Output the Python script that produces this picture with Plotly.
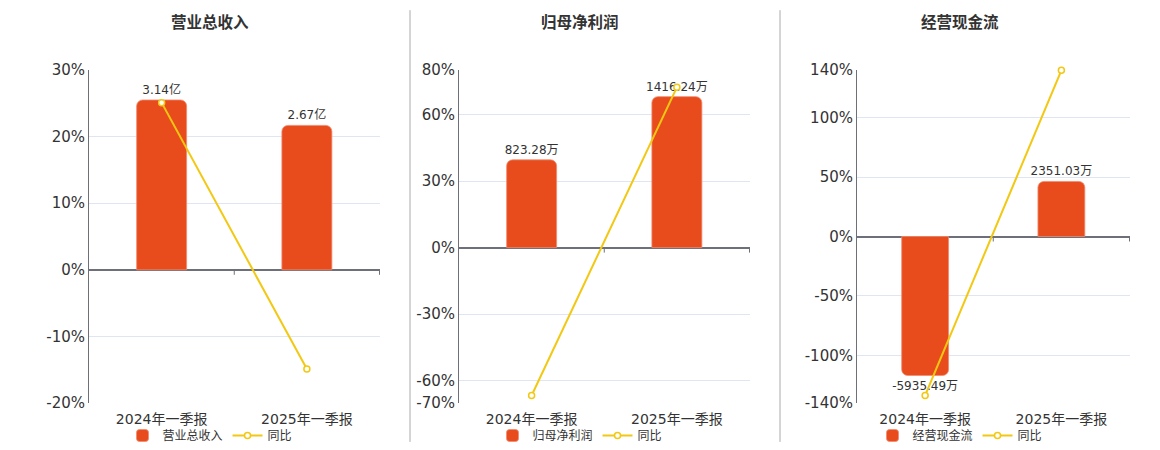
import plotly.graph_objects as go

# datos
categorias = ['2024年一季报', '2025年一季报']
titulos = ['营业总收入', '归母净利润', '经营现金流']
valores_barras = [[3.14, 2.67], [823.28, 1416.24], [-5935.49, 2351.03]]
etiquetas_barras = [['3.14亿', '2.67亿'], ['823.28万', '1416.24万'], ['-5935.49万', '2351.03万']]
tasa_yoy = [[25.1, -14.9], [-66.6, 72.2], [-133.6, 139.7]]
rangos_pct = [[-20, 30], [-70, 80], [-140, 140]]
ticks_pct = [[-20, -10, 0, 10, 20, 30], [-70, -60, -30, 0, 30, 60, 80], [-140, -100, -50, 0, 50, 100, 140]]
# altura (en %) a la que llega la barra mas grande en cada panel
escala_barra = [25.5, 68.0, 116.9]

ROJO = '#E84C1D'
AMARILLO = '#F2C812'
FUENTE = 'DejaVu Sans, Noto Sans CJK SC, sans-serif'

# el navegador deja 8px de margen en el body, todo se mide restando 8
W, H = 1152, 442
ARRIBA, ABAJO = 62, 396
ALTO = ABAJO - ARRIBA


def px_x(x):
    return (x - 8) / W


def px_y(y):
    return (ABAJO - (y - 8)) / ALTO


dominios = [[px_x(89), px_x(380)], [px_x(459), px_x(750)], [px_x(857), px_x(1130)]]
centros = [px_x(210), px_x(580), px_x(960)]

fig = go.Figure()
layout = dict(
    width=W, height=H,
    margin=dict(l=0, r=0, t=ARRIBA, b=H - ABAJO),
    plot_bgcolor='white', paper_bgcolor='white',
    font=dict(family=FUENTE, color='#333333'),
    showlegend=True,
    bargap=0.656,
)
anotaciones = []
formas = []

for i in range(3):
    n = '' if i == 0 else str(i + 1)
    xa = 'x' + n
    nb = '' if i == 0 else str(2 * i + 1)
    ya_bar = 'y' + nb
    ya_pct = 'y' + str(2 * i + 2)
    ley = 'legend' + n

    maximo = max(abs(v) for v in valores_barras[i])
    factor = maximo / escala_barra[i]
    rango_bar = [rangos_pct[i][0] * factor, rangos_pct[i][1] * factor]

    fig.add_trace(go.Bar(
        x=categorias, y=valores_barras[i], name=titulos[i],
        marker=dict(color=ROJO, cornerradius=6, line=dict(color='#F08A6E', width=0.8)),
        text=etiquetas_barras[i], textposition='outside', cliponaxis=False,
        constraintext='none', textfont=dict(size=12, color='#333333', family=FUENTE),
        xaxis=xa, yaxis=ya_bar, legend=ley, hoverinfo='skip',
    ))
    fig.add_trace(go.Scatter(
        x=categorias, y=tasa_yoy[i], name='同比', mode='lines+markers',
        line=dict(color=AMARILLO, width=2),
        marker=dict(symbol='circle', size=6, color='white', line=dict(color=AMARILLO, width=1.5)),
        xaxis=xa, yaxis=ya_pct, legend=ley, cliponaxis=False,
    ))

    layout['xaxis' + n] = dict(
        domain=dominios[i], anchor=ya_bar,
        type='category', showgrid=False, showline=False, zeroline=False,
        ticks='', ticklabelstandoff=6, tickfont=dict(size=14, color='#333333'),
    )
    # eje de barras (base, oculto)
    layout['yaxis' + nb] = dict(
        domain=[0, 1], anchor=xa, range=rango_bar, visible=False,
        showgrid=False, zeroline=False,
    )
    # eje de porcentaje (visible)
    layout['yaxis' + str(2 * i + 2)] = dict(
        overlaying=ya_bar, anchor=xa, side='left', range=rangos_pct[i],
        tickvals=ticks_pct[i], ticktext=[str(t) + '%' for t in ticks_pct[i]],
        showgrid=True, gridcolor='#E0E6F1', gridwidth=1,
        showline=True, linecolor='#6E7079', linewidth=1,
        zeroline=True, zerolinecolor='#6E7079', zerolinewidth=2,
        tickfont=dict(size=15, color='#333333'), ticks='',
    )
    layout[ley] = dict(
        orientation='h', x=centros[i], xanchor='center', y=px_y(437), yanchor='middle',
        font=dict(size=12, color='#333333'), bgcolor='rgba(0,0,0,0)',
        tracegroupgap=0,
    )
    anotaciones.append(dict(
        text='<b>' + titulos[i] + '</b>', x=centros[i], y=px_y(22), xref='paper', yref='paper',
        xanchor='center', yanchor='middle', showarrow=False,
        font=dict(size=15.5, color='#333333'),
    ))
    # marcas del eje de categorias sobre la linea de cero (5px hacia abajo)
    largo = 5 * (rangos_pct[i][1] - rangos_pct[i][0]) / ALTO
    for pos in [0.5, 1.5]:
        formas.append(dict(
            type='line', xref=xa, yref=ya_pct, x0=pos, x1=pos, y0=0, y1=-largo,
            line=dict(color='#6E7079', width=1), layer='above',
        ))

# lineas separadoras entre paneles
for xs in [410, 780]:
    formas.append(dict(type='line', xref='paper', yref='paper', x0=px_x(xs), x1=px_x(xs),
                       y0=px_y(443), y1=px_y(10), line=dict(color='#AAAAAA', width=1)))

layout['annotations'] = anotaciones
layout['shapes'] = formas
fig.update_layout(**layout)

fig.write_html('out.html')
